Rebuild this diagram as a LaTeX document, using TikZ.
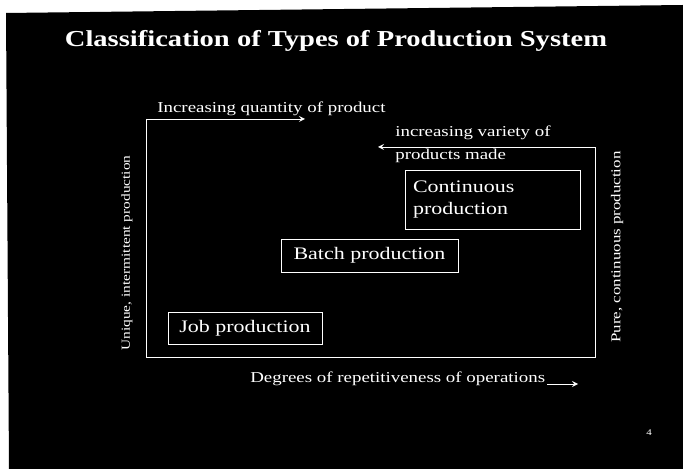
\documentclass[tikz,border=0pt]{standalone}
\usepackage{fontspec}
\setmainfont[FakeStretch=1.25]{Liberation Serif}
\usepackage{tikz}

\begin{document}
\begin{tikzpicture}[x=0.02cm,y=-0.02cm,>=stealth,
        mybox/.style={draw=white,line width=0.5pt,text=white,font=\fontsize{10}{13}\selectfont},
        mylabel/.style={text=white,inner sep=0pt,font=\fontsize{8.6}{10}\selectfont}]
        \useasboundingbox (0,0) rectangle (683,469);
        
        %slide
        \fill[white] (0,0) rectangle (683,469);
        \fill[black] (6,13) -- (683,5) -- (683,469) -- (9,469) -- cycle;
        
        %title
        \node[text=white,inner sep=0pt,anchor=base,font=\bfseries\fontsize{13}{15}\selectfont] (title) at (336,47) {Classification of Types of Production System};
        
        %frame corners
        \coordinate (tl) at (146,119);
        \coordinate (bl) at (146,357);
        \coordinate (br) at (595,357);
        \coordinate (tr) at (595,147);
        \coordinate (qend) at (305,119);
        \coordinate (vend) at (378,147);
        \coordinate (dend) at (578,384);
        
        %frame lines
        \draw [white, line width=0.5pt] (tl) -- (bl) -- (br) -- (tr);
        \draw [->, white, line width=0.5pt] (tl) -- (qend);
        \draw [->, white, line width=0.5pt] (tr) -- (vend);
        
        %axis labels
        \node[mylabel,anchor=base west] (quantity) at (157,113) {Increasing quantity of product};
        \node[mylabel,anchor=base west] (variety) at (395,137) {increasing variety of};
        \node[mylabel,anchor=base west] (made) at (395,160) {products made};
        \node[mylabel,anchor=base west] (degrees) at (250,383) {Degrees of repetitiveness of operations};
        \draw [->, white, line width=0.5pt] ([xshift=0.04cm,yshift=-0.02cm]degrees.base east) -- (dend);
        
        \node[mylabel,rotate=90,font=\fontsize{7}{8}\selectfont] (unique) at (127,253) {Unique, intermittent production};
        \node[mylabel,rotate=90,font=\fontsize{7.7}{9}\selectfont] (pure) at (617,247) {Pure, continuous production};
        
        %label boxes
        \node[mybox,minimum width=3.08cm,minimum height=0.64cm] (job) at (245,328) {Job production};
        \node[mybox,minimum width=3.54cm,minimum height=0.66cm] (batch) at (369.5,255.5) {Batch production};
        \node[mybox,align=left,text width=3.18cm,inner xsep=0.16cm,minimum height=1.18cm] (cont) at (492.5,199.5) {Continuous\\production};
        
        %page number
        \node[text=white,inner sep=0pt,font=\fontsize{5}{6}\selectfont] (page) at (649,433) {4};
\end{tikzpicture}
\end{document}
